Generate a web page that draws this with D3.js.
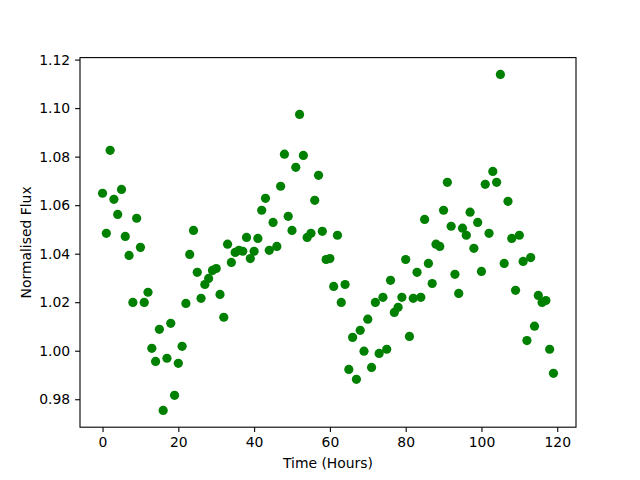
<!DOCTYPE html>
<html>
<head>
<meta charset="utf-8">
<script src="https://cdn.jsdelivr.net/npm/d3@7"></script>
<style>
body{margin:0;background:#fff;}
svg{display:block;}
text{font-family:"DejaVu Sans",sans-serif;}
</style>
</head>
<body>
<svg id="chart" width="640" height="480"></svg>
<script>
const hours = d3.range(0, 120);
const flux = [
1.0649,1.0484,1.0826,1.0624,1.0562,1.0665,1.0471,1.0393,1.0199,1.0546,
1.0426,1.0199,1.0241,1.0010,0.9956,1.0088,0.9754,0.9969,1.0113,0.9816,
0.9948,1.0018,1.0195,1.0397,1.0496,1.0323,1.0216,1.0273,1.0298,1.0331,
1.0339,1.0232,1.0138,1.0439,1.0364,1.0405,1.0414,1.0410,1.0467,1.0380,
1.0410,1.0463,1.0579,1.0628,1.0414,1.0529,1.0430,1.0678,1.0810,1.0554,
1.0496,1.0756,1.0974,1.0805,1.0467,1.0484,1.0620,1.0723,1.0492,1.0376,
1.0380,1.0265,1.0476,1.0199,1.0273,0.9923,1.0055,0.9882,1.0084,0.9998,
1.0130,0.9931,1.0199,0.9989,1.0220,1.0006,1.0290,1.0158,1.0179,1.0220,
1.0376,1.0059,1.0216,1.0323,1.0220,1.0541,1.0360,1.0277,1.0439,1.0430,
1.0579,1.0694,1.0513,1.0315,1.0236,1.0505,1.0476,1.0571,1.0422,1.0529,
1.0327,1.0686,1.0484,1.0739,1.0694,1.1139,1.0360,1.0616,1.0463,1.0249,
1.0476,1.0368,1.0042,1.0384,1.0101,1.0228,1.0199,1.0207,1.0006,0.9907
];
const xTicks = [0, 20, 40, 60, 80, 100, 120];
const yTicks = [0.98, 1.00, 1.02, 1.04, 1.06, 1.08, 1.10, 1.12];

const svg = d3.select("#chart");
const L = 80, R = 576, T = 57.6, B = 427.2;

const xe = d3.extent(hours), ye = d3.extent(flux);
const xp = (xe[1]-xe[0])*0.05, yp = (ye[1]-ye[0])*0.05;
const x = d3.scaleLinear().domain([xe[0]-xp, xe[1]+xp]).range([L, R]);
const y = d3.scaleLinear().domain([ye[0]-yp, ye[1]+yp]).range([B, T]);

const plot = svg.append("g");
plot.selectAll("circle").data(hours).enter().append("circle")
  .attr("cx", (d,i) => x(d))
  .attr("cy", (d,i) => y(flux[i]))
  .attr("r", 4.6)
  .attr("fill", "#008000");

const xAxis = svg.append("g").attr("transform", `translate(0,${B})`)
  .call(d3.axisBottom(x).tickValues(xTicks).tickSize(4.9).tickPadding(4.9).tickFormat(d3.format("d")));
const yAxis = svg.append("g").attr("transform", `translate(${L},0)`)
  .call(d3.axisLeft(y).tickValues(yTicks).tickSize(4.9).tickPadding(4.9).tickFormat(d3.format(".2f")));
[xAxis, yAxis].forEach(a => {
  a.select(".domain").remove();
  a.selectAll("line").attr("stroke", "#000").attr("stroke-width", 1.1);
  a.selectAll("text").attr("font-size", "13.9px").attr("font-family", "DejaVu Sans").attr("fill", "#000");
});

svg.append("rect").attr("x", L).attr("y", T).attr("width", R-L).attr("height", B-T)
  .attr("fill", "none").attr("stroke", "#000").attr("stroke-width", 1.1);

svg.append("text").attr("x", (L+R)/2).attr("y", 468).attr("text-anchor", "middle")
  .attr("font-size", "13.9px").text("Time (Hours)");
svg.append("text").attr("transform", `translate(31,${(T+B)/2}) rotate(-90)`).attr("text-anchor", "middle")
  .attr("font-size", "13.9px").text("Normalised Flux");
</script>
</body>
</html>
